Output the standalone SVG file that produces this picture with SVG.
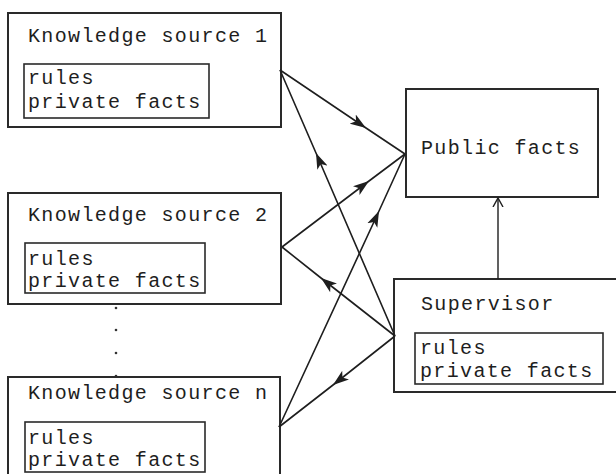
<svg xmlns="http://www.w3.org/2000/svg" width="616" height="474" viewBox="0 0 616 474">
<style>
.box{fill:none;stroke:#2a2a2a;stroke-width:2}
.inner{fill:none;stroke:#2a2a2a;stroke-width:1.6}
.t{font-family:"Liberation Mono","Courier New",monospace;font-size:20px;letter-spacing:1.35px;fill:#1e1e1e}
.ln{fill:none;stroke:#1e1e1e;stroke-width:1.6;marker-mid:url(#ah)}
.dot{fill:#333}
</style>
<defs>
<marker id="ah" markerUnits="userSpaceOnUse" markerWidth="18" markerHeight="12" refX="16" refY="6" orient="auto">
<path d="M0,0.5 L16,6 L0,11.5 L4,6 Z" fill="#1e1e1e"/>
</marker>
<marker id="oh" markerUnits="userSpaceOnUse" markerWidth="12" markerHeight="12" refX="9" refY="6" orient="auto">
<path d="M0,1 L9,6 L0,11" fill="none" stroke="#1e1e1e" stroke-width="1.4"/>
</marker>
</defs>
<rect width="616" height="474" fill="#ffffff"/>
<g id="ks1">
<rect class="box" x="8" y="13" width="273" height="114"/>
<text class="t" x="28" y="42">Knowledge source 1</text>
<rect class="inner" x="24" y="64" width="185" height="54"/>
<text class="t" x="28" y="84">rules</text>
<text class="t" x="28" y="108">private facts</text>
</g>
<g id="ks2">
<rect class="box" x="8" y="193" width="273" height="111"/>
<text class="t" x="28" y="221">Knowledge source 2</text>
<rect class="inner" x="25" y="243" width="180" height="50"/>
<text class="t" x="28" y="265">rules</text>
<text class="t" x="28" y="287">private facts</text>
</g>
<g id="dots">
<circle class="dot" cx="116" cy="308" r="1.3"/>
<circle class="dot" cx="116" cy="330" r="1.3"/>
<circle class="dot" cx="116" cy="353" r="1.3"/>
<circle class="dot" cx="116" cy="376" r="1.3"/>
</g>
<g id="ksn">
<rect class="box" x="8" y="377" width="272" height="110"/>
<text class="t" x="28" y="399">Knowledge source n</text>
<rect class="inner" x="25" y="422" width="180" height="50"/>
<text class="t" x="28" y="444">rules</text>
<text class="t" x="28" y="466">private facts</text>
</g>
<g id="public">
<rect class="box" x="406" y="89" width="192" height="108"/>
<text class="t" x="421" y="154">Public facts</text>
</g>
<g id="supervisor">
<rect class="box" x="394" y="279" width="230" height="113"/>
<text class="t" x="421" y="310">Supervisor</text>
<rect class="inner" x="415" y="333" width="188" height="51"/>
<text class="t" x="420" y="354">rules</text>
<text class="t" x="420" y="377">private facts</text>
</g>
<g id="connectors">
<path class="ln" d="M280,70 L366,128 L405,154"/>
<path class="ln" d="M395,336 L316,153 L280,70"/>
<path class="ln" d="M282,247 L369,181 L405,154"/>
<path class="ln" d="M395,336 L321,278 L282,247"/>
<path class="ln" d="M279,427 L379,211 L405,154"/>
<path class="ln" d="M395,336 L333,385 L279,427"/>
<path d="M498,279 L498,198" fill="none" stroke="#1e1e1e" stroke-width="1.4" marker-end="url(#oh)"/>
</g>
</svg>
